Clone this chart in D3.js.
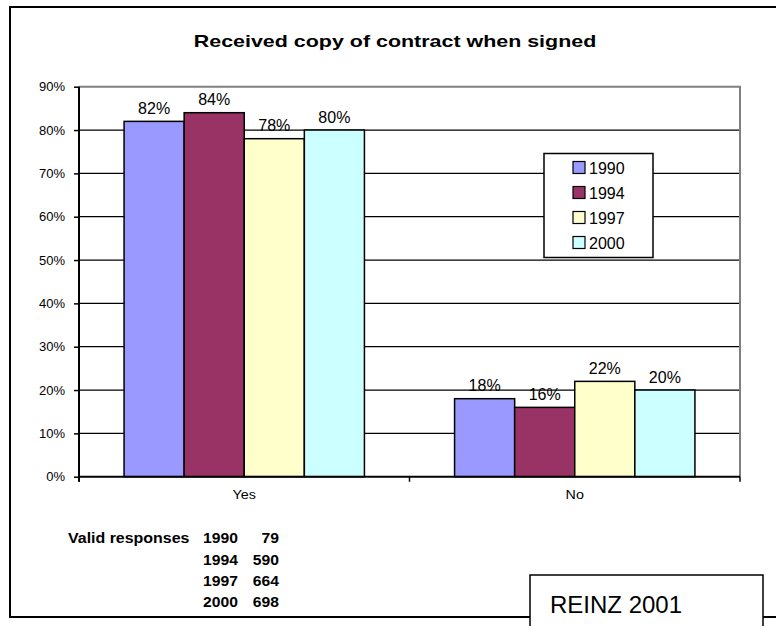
<!DOCTYPE html>
<html>
<head>
<meta charset="utf-8">
<script src="https://cdn.jsdelivr.net/npm/d3@7"></script>
<style>
  html, body { margin: 0; padding: 0; background: #fff; }
  svg { display: block; font-family: Arial, "Liberation Sans", sans-serif; }
</style>
</head>
<body>
<svg id="chart" width="776" height="626"></svg>
<script>
// ---- data ----
const categories = ["Yes", "No"];
const years = ["1990", "1994", "1997", "2000"];
const values1990 = [0.82, 0.18];
const values1994 = [0.84, 0.16];
const values1997 = [0.78, 0.22];
const values2000 = [0.80, 0.20];
const yTicks = [0, 0.1, 0.2, 0.3, 0.4, 0.5, 0.6, 0.7, 0.8, 0.9];
const responseCounts = [79, 590, 664, 698];
const titleText = "Received copy of contract when signed";
const sourceText = "REINZ 2001";

const seriesValues = { "1990": values1990, "1994": values1994, "1997": values1997, "2000": values2000 };
const colors = { "1990": "#9999FF", "1994": "#993366", "1997": "#FFFFCC", "2000": "#CCFFFF" };

// ---- layout ----
const plot = { left: 79, right: 740, top: 86.7, bottom: 476.7 };
const svg = d3.select("#chart");
const pct = d3.format(".0%");

// outer frame (runs off the right edge)
svg.append("rect")
  .attr("x", 10).attr("y", 7).attr("width", 820).attr("height", 610)
  .attr("fill", "#fff").attr("stroke", "#000").attr("stroke-width", 2);

// helper: text stretched horizontally about its anchor
function stretched(parent, x, y, sx, txt) {
  return parent.append("text")
    .attr("transform", `translate(${x},${y}) scale(${sx},1)`)
    .text(txt);
}

// title
stretched(svg, 395, 46.5, 1.34, titleText)
  .attr("text-anchor", "middle").attr("font-weight", "bold").attr("font-size", 16).attr("fill", "#000");

// scales
const y = d3.scaleLinear().domain([0, 0.9]).range([plot.bottom, plot.top]);
const x0 = d3.scaleBand().domain(categories).range([plot.left, plot.right]).paddingInner(0).paddingOuter(0);
const x1 = d3.scaleBand().domain(years).range([0, x0.bandwidth()]).paddingInner(0).paddingOuter(0.75);

// gridlines
svg.append("g").selectAll("line")
  .data(yTicks.filter(t => t > 0 && t < 0.9))
  .join("line")
  .attr("x1", plot.left).attr("x2", plot.right)
  .attr("y1", d => y(d)).attr("y2", d => y(d))
  .attr("stroke", "#000").attr("stroke-width", 1.2);

// plot border top/right (grey)
svg.append("path")
  .attr("d", `M${plot.left},${y(0.9)}H${plot.right}V${plot.bottom}`)
  .attr("fill", "none").attr("stroke", "#808080").attr("stroke-width", 2);

// bars
const groups = svg.append("g").selectAll("g")
  .data(categories)
  .join("g")
  .attr("transform", d => `translate(${x0(d)},0)`);

groups.selectAll("rect")
  .data((c, ci) => years.map(yr => ({ yr, v: seriesValues[yr][ci] })))
  .join("rect")
  .attr("x", d => x1(d.yr))
  .attr("width", x1.bandwidth())
  .attr("y", d => y(d.v))
  .attr("height", d => y(0) - y(d.v))
  .attr("fill", d => colors[d.yr])
  .attr("stroke", "#000").attr("stroke-width", 1.5);

groups.selectAll("text.val")
  .data((c, ci) => years.map(yr => ({ yr, v: seriesValues[yr][ci] })))
  .join("text")
  .attr("class", "val")
  .attr("x", d => x1(d.yr) + x1.bandwidth() / 2)
  .attr("y", d => y(d.v) - 7.5)
  .attr("text-anchor", "middle").attr("font-size", 16).attr("fill", "#000")
  .text(d => pct(d.v));

// y axis
const yAxis = svg.append("g")
  .attr("transform", `translate(${plot.left},0)`)
  .call(d3.axisLeft(y).tickValues(yTicks).tickFormat(pct).tickSize(5).tickPadding(9).tickSizeOuter(0));
yAxis.select(".domain").attr("stroke", "#000").attr("stroke-width", 2)
  .attr("d", `M0,${y(0.9)}V${plot.bottom + 5}`);
yAxis.selectAll(".tick line").attr("stroke", "#000").attr("stroke-width", 1.5);
yAxis.selectAll(".tick text").attr("font-size", 13).attr("fill", "#000")
  .attr("font-family", "Arial, 'Liberation Sans', sans-serif");

// x axis
const xAxis = svg.append("g").attr("transform", `translate(0,${plot.bottom})`);
xAxis.append("line")
  .attr("x1", plot.left).attr("x2", plot.right)
  .attr("stroke", "#000").attr("stroke-width", 2);
xAxis.selectAll("line.tk")
  .data([...categories.map(c => x0(c)), plot.right])
  .join("line").attr("class", "tk")
  .attr("x1", d => d).attr("x2", d => d).attr("y1", 0).attr("y2", 5)
  .attr("stroke", "#000").attr("stroke-width", 1.5);
categories.forEach(c => {
  stretched(xAxis, x0(c) + x0.bandwidth() / 2, 22.6, 1.1, c)
    .attr("text-anchor", "middle").attr("font-size", 13).attr("fill", "#000");
});

// legend
const legend = svg.append("g").attr("transform", "translate(544,153.5)");
legend.append("rect").attr("width", 109).attr("height", 104)
  .attr("fill", "#fff").attr("stroke", "#000").attr("stroke-width", 1.5);
const li = legend.selectAll("g").data(years).join("g")
  .attr("transform", (d, i) => `translate(29,${14 + i * 25})`);
li.append("rect").attr("x", 0).attr("y", -6).attr("width", 12).attr("height", 12)
  .attr("fill", d => colors[d]).attr("stroke", "#000").attr("stroke-width", 1.2);
li.append("text").attr("x", 16).attr("y", 6).attr("font-size", 16).attr("fill", "#000").text(d => d);

// valid responses table
const table = svg.append("g").attr("font-weight", "bold").attr("font-size", 14).attr("fill", "#000");
stretched(table, 68, 543.3, 1.14, "Valid responses");
years.forEach((yr, i) => {
  const by = 543.3 + i * 21.3;
  stretched(table, 203, by, 1.12, yr);
  stretched(table, 279, by, 1.12, String(responseCounts[i])).attr("text-anchor", "end");
});

// source box
svg.append("rect").attr("x", 530).attr("y", 575).attr("width", 233).attr("height", 80)
  .attr("fill", "#fff").attr("stroke", "#000").attr("stroke-width", 1.5);
svg.append("text").attr("x", 550).attr("y", 613).attr("font-size", 24).attr("fill", "#000").text(sourceText);
</script>
</body>
</html>
